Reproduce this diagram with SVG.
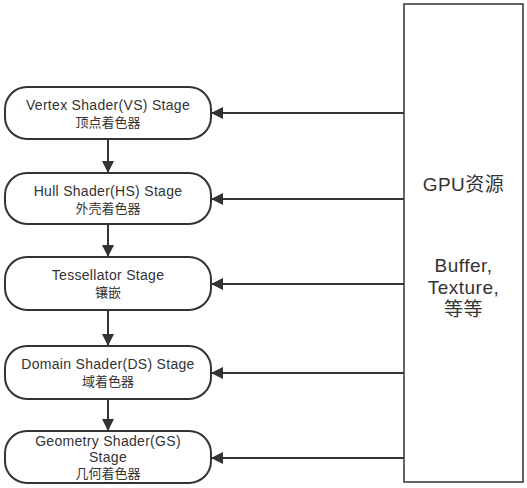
<svg xmlns="http://www.w3.org/2000/svg" width="527" height="488" viewBox="0 0 527 488">
<style>
.node{fill:#fff;stroke:#333;stroke-width:2}
.res{fill:#fff;stroke:#333;stroke-width:1.5}
.t{font-family:"Liberation Sans","Noto Sans CJK SC",sans-serif;font-size:14px;letter-spacing:0.3px;fill:#333;text-anchor:middle}
.c{font-family:"Liberation Sans","Noto Sans CJK SC",sans-serif;font-size:13px;fill:#333;text-anchor:middle}
.big{font-family:"Liberation Sans","Noto Sans CJK SC",sans-serif;font-size:19px;letter-spacing:0.5px;fill:#333;text-anchor:middle}
.edge{stroke:#333;stroke-width:2;fill:none;marker-end:url(#ah)}
</style>
<defs>
<marker id="ah" markerWidth="12" markerHeight="12" viewBox="0 0 12 12" refX="12" refY="6" orient="auto" markerUnits="userSpaceOnUse">
<path d="M0,0 L12,6 L0,12 Z" fill="#333"/>
</marker>
</defs>
<rect width="527" height="488" fill="#fff"/>
<g id="gpu">
<rect class="res" x="404" y="4" width="119" height="478"/>
<text class="big" x="463.5" y="191">GPU资源</text>
<text class="big" x="463.5" y="272">Buffer,</text>
<text class="big" x="463.5" y="294">Texture,</text>
<text class="big" x="463.5" y="316">等等</text>
</g>
<g id="vs">
<rect class="node" x="5" y="87" width="206" height="52" rx="22"/>
<text class="t" x="108" y="110">Vertex Shader(VS) Stage</text>
<text class="c" x="108" y="127">顶点着色器</text>
</g>
<g id="hs">
<rect class="node" x="5" y="173" width="206" height="51" rx="22"/>
<text class="t" x="108" y="196">Hull Shader(HS) Stage</text>
<text class="c" x="108" y="213">外壳着色器</text>
</g>
<g id="ts">
<rect class="node" x="5" y="257" width="206" height="53" rx="22"/>
<text class="t" x="108" y="280">Tessellator Stage</text>
<text class="c" x="108" y="297">镶嵌</text>
</g>
<g id="ds">
<rect class="node" x="5" y="346" width="206" height="53" rx="22"/>
<text class="t" x="108" y="369">Domain Shader(DS) Stage</text>
<text class="c" x="108" y="386">域着色器</text>
</g>
<g id="gs">
<rect class="node" x="5" y="431" width="206" height="52" rx="22"/>
<text class="t" x="108" y="446">Geometry Shader(GS)</text>
<text class="t" x="108" y="462">Stage</text>
<text class="c" x="108" y="478">几何着色器</text>
</g>
<g id="connectors">
<path class="edge" d="M108,139 L108,173"/>
<path class="edge" d="M108,224 L108,257"/>
<path class="edge" d="M108,310 L108,346"/>
<path class="edge" d="M108,399 L108,431"/>
<path class="edge" d="M404,113 L211,113"/>
<path class="edge" d="M404,199 L211,199"/>
<path class="edge" d="M404,284 L211,284"/>
<path class="edge" d="M404,373 L211,373"/>
<path class="edge" d="M404,458 L211,458"/>
</g>
</svg>
